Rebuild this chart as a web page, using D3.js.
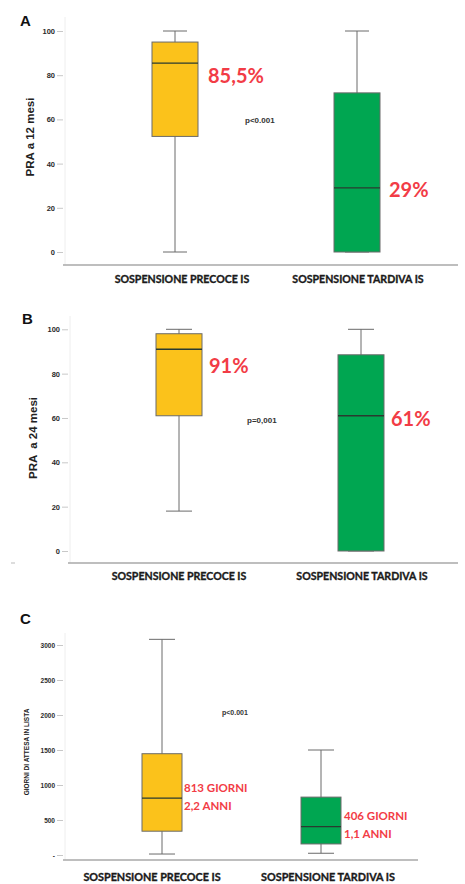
<!DOCTYPE html>
<html>
<head>
<meta charset="utf-8">
<script src="https://cdn.jsdelivr.net/npm/d3@7"></script>
<style>
  body { margin: 0; background: #fff; }
  svg { display: block; }
  .tick-label { font-family: "Liberation Sans", Arial, sans-serif; font-weight: bold; fill: #2a2a2a; }
  .cat { font-family: Lato, "Open Sans", sans-serif; font-weight: bold; fill: #1a1a1a; stroke: #1a1a1a; stroke-width: 0.35px; }
  .red { font-family: Lato, "Open Sans", sans-serif; font-weight: bold; fill: #f23c46; }
</style>
</head>
<body>
<div id="chart"></div>
<script>
// data
const categories = ["SOSPENSIONE PRECOCE IS", "SOSPENSIONE TARDIVA IS"];

// [min, q1, median, q3, max]
const pra12Stats = [
  [0, 52.3, 85.5, 95, 100],
  [0, 0, 29, 72, 100]
];
const pra24Stats = [
  [18, 61, 91, 98, 100],
  [0, 0, 61, 88.5, 100]
];
const giorniStats = [
  [14, 340, 813, 1447, 3081],
  [25, 158, 406, 827, 1500]
];

const pctTicks = [0, 20, 40, 60, 80, 100];
const pctTickLabels = ["0", "20", "40", "60", "80", "100"];
const giorniTicks = [0, 500, 1000, 1500, 2000, 2500, 3000];
const giorniTickLabels = ["-", "500", "1000", "1500", "2000", "2500", "3000"];

const pra12Labels = [["85,5%"], ["29%"]];
const pra24Labels = [["91%"], ["61%"]];
const giorniLabels = [["813 GIORNI", "2,2 ANNI"], ["406 GIORNI", "1,1 ANNI"]];

const pValues = ["p<0.001", "p=0,001", "p<0.001"];
const yTitles = ["PRA a 12 mesi", "PRA  a 24 mesi", "GIORNI DI ATTESA IN LISTA"];
const letters = ["A", "B", "C"];

const fills = ["#fbc21b", "#00a651"];

var width = 465, height = 884;

var svg = d3.select("#chart").append("svg")
  .attr("width", width)
  .attr("height", height);

// layout of the three panels (pixels)
var panels = [
  { stats: pra12Stats, ticks: pctTicks, tickLabels: pctTickLabels, labels: pra12Labels,
    domain: [0, 100], yRange: [252, 31], xRange: [175, 357], axisX: 63, axisTop: 17, baseY: 265, axisEnd: 458,
    boxW: 46, capW: 24, tickFont: 7.5, labelGap: [10, 9], labelDy: [20, 9.5], labelFont: 20, lineH: 0,
    letter: [20, 26], p: [245, 123], pFont: 8, title: [30, 137], titleFont: 11.5,
    catY: 283, catDx: [7, 1], catFont: 10.6 },
  { stats: pra24Stats, ticks: pctTicks, tickLabels: pctTickLabels, labels: pra24Labels,
    domain: [0, 100], yRange: [551, 329.3], xRange: [179, 361], axisX: 68, axisTop: 316, baseY: 563, axisEnd: 458,
    boxW: 46, capW: 26, tickFont: 7.5, labelGap: [7, 7], labelDy: [24, 10], labelFont: 20, lineH: 0,
    letter: [22, 324], p: [247, 423], pFont: 8, title: [33, 438], titleFont: 11.5,
    catY: 580, catDx: [0, 1], catFont: 10.6 },
  { stats: giorniStats, ticks: giorniTicks, tickLabels: giorniTickLabels, labels: giorniLabels,
    domain: [0, 3000], yRange: [855, 645], xRange: [162, 321], axisX: 63, axisTop: 633, baseY: 860, axisEnd: 418,
    boxW: 40, capW: 26, tickFont: 6.5, labelGap: [2, 3], labelDy: [-6.5, -6.8], labelFont: 11.5, lineH: 18,
    letter: [20, 624], p: [222, 715], pFont: 7, title: [26, 752], titleFont: 6.5,
    catY: 881, catDx: [-10, 7], catFont: 10.8 }
];

panels.forEach(function(p, i) {
  var y = d3.scaleLinear().domain(p.domain).range(p.yRange);
  var x = d3.scalePoint().domain(categories).range(p.xRange);
  var g = svg.append("g");

  // panel letter
  g.append("text")
    .attr("x", p.letter[0]).attr("y", p.letter[1])
    .attr("font-family", "Liberation Sans, Arial, sans-serif")
    .attr("font-weight", "bold").attr("font-size", 15)
    .attr("fill", "#111")
    .text(letters[i]);

  // faint y axis line
  g.append("line")
    .attr("x1", p.axisX + 2).attr("x2", p.axisX + 2)
    .attr("y1", p.axisTop).attr("y2", p.baseY)
    .attr("stroke", "#eeeeee").attr("stroke-width", 1);

  // y axis ticks via d3 axis
  var yAxis = d3.axisLeft(y)
    .tickValues(p.ticks)
    .tickSize(6)
    .tickPadding(2)
    .tickFormat(function(d, k) { return p.tickLabels[k]; });

  var ag = g.append("g")
    .attr("transform", "translate(" + p.axisX + ",0)")
    .call(yAxis);
  ag.select(".domain").remove();
  ag.selectAll(".tick line").attr("stroke", "#c8c8c8");
  ag.selectAll(".tick text")
    .attr("class", "tick-label")
    .attr("font-size", p.tickFont)
    .attr("font-family", null);

  // x baseline
  g.append("line")
    .attr("x1", p.axisX).attr("x2", p.axisEnd)
    .attr("y1", p.baseY).attr("y2", p.baseY)
    .attr("stroke", "#a8a8a8").attr("stroke-width", 1.5);

  // y title
  g.append("text")
    .attr("transform", "translate(" + p.title[0] + "," + p.title[1] + ") rotate(-90)")
    .attr("text-anchor", "middle")
    .attr("dominant-baseline", "central")
    .attr("font-family", "Liberation Sans, Arial, sans-serif")
    .attr("font-weight", "bold")
    .attr("font-size", p.titleFont)
    .attr("fill", "#222")
    .style("white-space", "pre")
    .text(yTitles[i]);

  // boxes
  var box = g.selectAll(".box")
    .data(p.stats)
    .enter().append("g");

  // whisker
  box.append("line")
    .attr("x1", function(d, k) { return x(categories[k]); })
    .attr("x2", function(d, k) { return x(categories[k]); })
    .attr("y1", function(d) { return y(d[0]); })
    .attr("y2", function(d) { return y(d[4]); })
    .attr("stroke", "#6a6a6a").attr("stroke-width", 1);

  // caps
  [0, 4].forEach(function(idx) {
    box.append("line")
      .attr("x1", function(d, k) { return x(categories[k]) - p.capW / 2; })
      .attr("x2", function(d, k) { return x(categories[k]) + p.capW / 2; })
      .attr("y1", function(d) { return y(d[idx]); })
      .attr("y2", function(d) { return y(d[idx]); })
      .attr("stroke", "#6a6a6a").attr("stroke-width", 1);
  });

  box.append("rect")
    .attr("x", function(d, k) { return x(categories[k]) - p.boxW / 2; })
    .attr("width", p.boxW)
    .attr("y", function(d) { return y(d[3]); })
    .attr("height", function(d) { return y(d[1]) - y(d[3]); })
    .attr("fill", function(d, k) { return fills[k]; })
    .attr("stroke", "#6a6a6a").attr("stroke-width", 1);

  // median
  box.append("line")
    .attr("x1", function(d, k) { return x(categories[k]) - p.boxW / 2; })
    .attr("x2", function(d, k) { return x(categories[k]) + p.boxW / 2; })
    .attr("y1", function(d) { return y(d[2]); })
    .attr("y2", function(d) { return y(d[2]); })
    .attr("stroke", "#2a3a30").attr("stroke-width", 1.3);

  // red median labels
  box.each(function(d, k) {
    var t = d3.select(this).append("text")
      .attr("class", "red")
      .attr("font-size", p.labelFont)
      .attr("x", x(categories[k]) + p.boxW / 2 + p.labelGap[k])
      .attr("y", y(d[2]) + p.labelDy[k]);
    p.labels[k].forEach(function(s, j) {
      t.append("tspan")
        .attr("x", x(categories[k]) + p.boxW / 2 + p.labelGap[k])
        .attr("dy", j == 0 ? 0 : p.lineH)
        .text(s);
    });
  });

  // p value
  g.append("text")
    .attr("x", p.p[0]).attr("y", p.p[1])
    .attr("font-family", "Liberation Sans, Arial, sans-serif")
    .attr("font-weight", "bold")
    .attr("font-size", p.pFont)
    .attr("fill", "#333")
    .text(pValues[i]);

  // category labels
  g.selectAll(".cat")
    .data(categories)
    .enter().append("text")
    .attr("class", "cat")
    .attr("x", function(d, k) { return x(d) + p.catDx[k]; })
    .attr("y", p.catY)
    .attr("text-anchor", "middle")
    .attr("font-size", p.catFont)
    .text(function(d) { return d; });
});

// small stray mark left of panel B baseline
svg.append("line")
  .attr("x1", 11).attr("x2", 15)
  .attr("y1", 563).attr("y2", 563)
  .attr("stroke", "#bbb").attr("stroke-width", 1);
</script>
</body>
</html>
